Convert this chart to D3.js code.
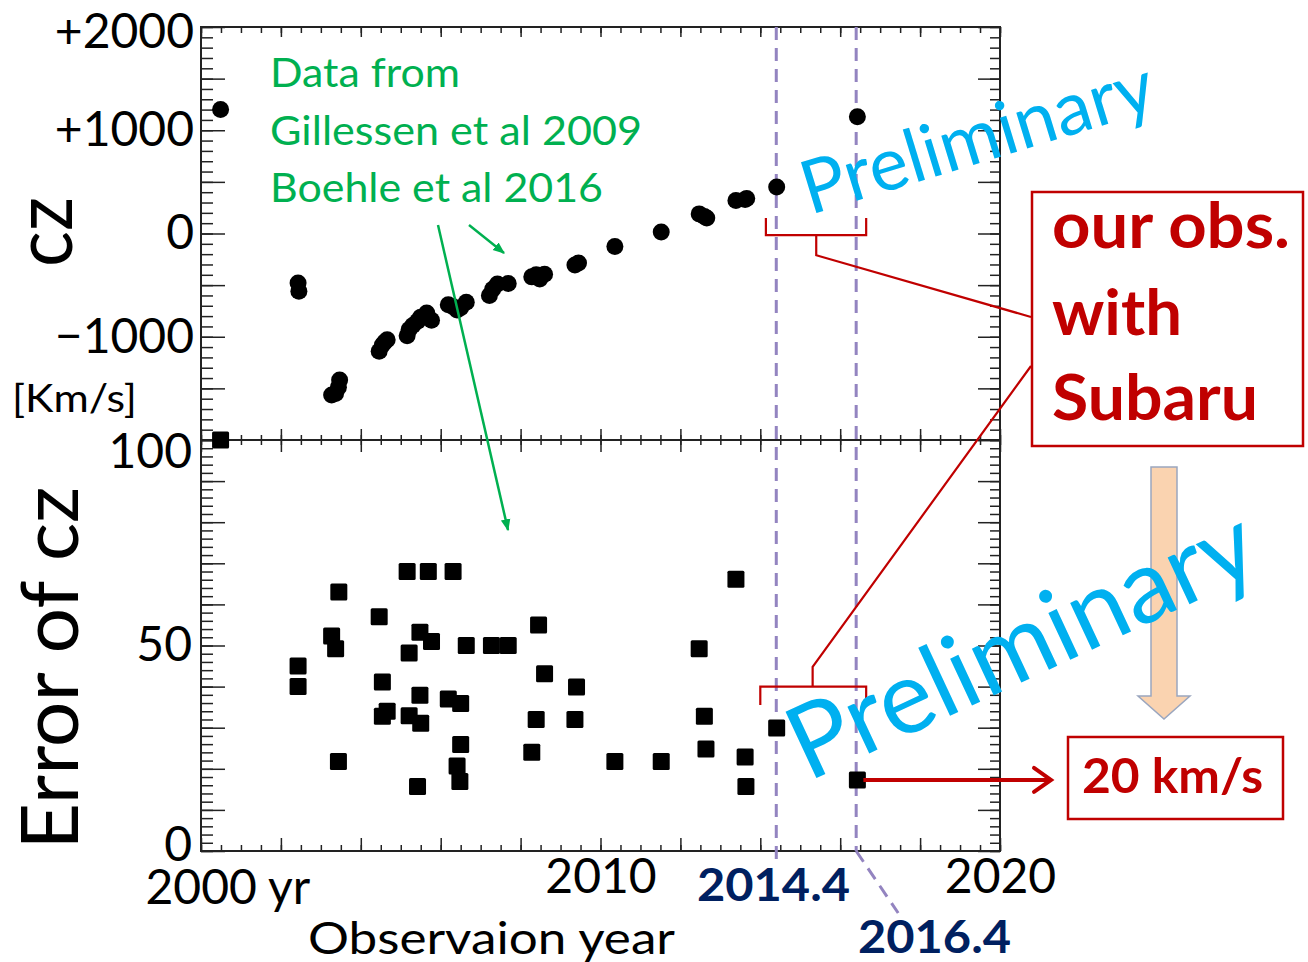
<!DOCTYPE html>
<html>
<head>
<meta charset="utf-8">
<script src="https://cdn.jsdelivr.net/npm/d3@7"></script>
<style>
  body { margin: 0; background: #fff; }
  svg { display: block; }
  text { font-family: Lato, "Open Sans", sans-serif; }
</style>
</head>
<body>
<svg id="chart" width="1308" height="962"></svg>
<script>
// cz (km/s) per epoch
const czYears = [2000.49, 2002.43, 2002.45, 2003.27, 2003.37, 2003.44, 2003.47,
  2004.46, 2004.54, 2004.6, 2004.66, 2005.16, 2005.21, 2005.3, 2005.42, 2005.5,
  2005.65, 2005.77, 2006.19, 2006.31, 2006.41, 2006.5, 2006.64, 2007.22, 2007.3,
  2007.42, 2007.69, 2008.28, 2008.39, 2008.48, 2008.6, 2009.36, 2009.45, 2010.36,
  2011.52, 2012.47, 2012.6, 2012.66, 2013.39, 2013.62, 2013.66, 2014.41, 2016.43];
const czValues = [1200, -480, -560, -1565, -1550, -1490, -1420,
  -1140, -1080, -1050, -1030, -990, -930, -890, -850, -810,
  -770, -840, -690, -710, -740, -720, -665, -600, -540,
  -490, -485, -420, -400, -440, -395, -305, -285, -125,
  15, 190, 165, 150, 320, 330, 340, 450, 1130];

// error of cz (km/s), lower panel
const errYears = [2000.49, 2002.43, 2002.43, 2003.27, 2003.37, 2003.45, 2003.44,
  2004.46, 2004.54, 2004.66, 2004.54, 2005.16, 2005.69, 2006.31, 2005.48, 2005.77,
  2005.21, 2005.48, 2005.21, 2005.5, 2005.42, 2006.19, 2006.5, 2006.5, 2006.41,
  2006.48, 2006.64, 2007.27, 2007.69, 2008.45, 2008.6, 2008.39, 2008.28, 2009.4,
  2009.36, 2010.36, 2011.52, 2012.47, 2012.6, 2012.64, 2013.39, 2013.62, 2013.64,
  2014.41, 2016.43];
const errValues = [100, 45, 40, 52.3, 49.2, 63, 21.8,
  57, 41.1, 34, 32.8, 68, 68, 68, 53.2, 51,
  48.2, 37.9, 32.9, 31.1, 15.7, 37, 35.9, 25.9, 20.7,
  16.9, 50, 50, 50, 55, 43.1, 32, 24, 39.9,
  32, 21.8, 21.8, 49.2, 32.8, 24.8, 66.1, 22.9, 15.7,
  29.9, 17.3];

const obsEpochs = [2014.4, 2016.4];
const obsLabels = ["2014.4", "2016.4"];

const xTickValues = [2000, 2010, 2020];
const xTickLabels = ["2000 yr", "2010", "2020"];
const czTickValues = [2000, 1000, 0, -1000];
const czTickLabels = ["+2000", "+1000", "0", "\u22121000"];
const errTickValues = [100, 50, 0];
const errTickLabels = ["100", "50", "0"];

const sourceLines = ["Data from", "Gillessen et al 2009", "Boehle et al 2016"];
const subaruLines = ["our obs.", "with", "Subaru"];
const resultLabel = "20 km/s";
const stampText = "Preliminary";

const GREEN = "#00b050", RED = "#c00000", CYAN = "#00b0f0", NAVY = "#002060", LILAC = "#9384c0";

const svg = d3.select("#chart");
const pLeft = 201, pRight = 1000, pTop = 27, pMid = 440, pBottom = 851;

const x = d3.scaleLinear().domain([2000, 2020]).range([pLeft, pRight]);
const yCz = d3.scaleLinear().domain([-2000, 2000]).range([pMid, pTop]);
const yErr = d3.scaleLinear().domain([0, 100]).range([pBottom, pMid]);

const defs = svg.append("defs");
function marker(id, color, size) {
  defs.append("marker")
    .attr("id", id).attr("viewBox", "0 0 10 10")
    .attr("refX", 9).attr("refY", 5)
    .attr("markerWidth", size).attr("markerHeight", size)
    .attr("markerUnits", "userSpaceOnUse")
    .attr("orient", "auto")
    .append("path").attr("d", "M0,1 L10,5 L0,9 Z").attr("fill", color);
}
marker("greenHead", GREEN, 12);

// ---- ticks (all inward, on every side of both panels)
function ticks(axis, scale, values, size, tf) {
  svg.append("g").attr("transform", tf)
    .call(axis(scale).tickValues(values).tickSize(size).tickFormat(""))
    .call(g => g.select(".domain").remove())
    .call(g => g.selectAll("line").attr("stroke", "#222").attr("stroke-width", 1.5));
}
const xMinor = d3.range(2000, 2020.01, 0.5), xMajor = d3.range(2000, 2020.01, 2);
ticks(d3.axisTop, x, xMinor, -6, `translate(0,${pTop})`);
ticks(d3.axisTop, x, xMajor, -10, `translate(0,${pTop})`);
ticks(d3.axisBottom, x, xMinor, -5, `translate(0,${pMid})`);
ticks(d3.axisBottom, x, xMajor, -11, `translate(0,${pMid})`);
ticks(d3.axisTop, x, xMinor, -5, `translate(0,${pMid})`);
ticks(d3.axisTop, x, xMajor, -12, `translate(0,${pMid})`);
ticks(d3.axisBottom, x, xMinor, -6, `translate(0,${pBottom})`);
ticks(d3.axisBottom, x, xMajor, -13, `translate(0,${pBottom})`);

const czMinor = d3.range(-2000, 2000.1, 100), czMajor = d3.range(-2000, 2000.1, 500);
const errMinor = d3.range(0, 100.1, 2), errMajor = d3.range(0, 100.1, 10);
ticks(d3.axisLeft, yCz, czMinor, -12, `translate(${pLeft},0)`);
ticks(d3.axisLeft, yCz, czMajor, -24, `translate(${pLeft},0)`);
ticks(d3.axisRight, yCz, czMinor, -10, `translate(${pRight},0)`);
ticks(d3.axisRight, yCz, czMajor, -22, `translate(${pRight},0)`);
ticks(d3.axisLeft, yErr, errMinor, -12, `translate(${pLeft},0)`);
ticks(d3.axisLeft, yErr, errMajor, -24, `translate(${pLeft},0)`);
ticks(d3.axisRight, yErr, errMinor, -10, `translate(${pRight},0)`);
ticks(d3.axisRight, yErr, errMajor, -22, `translate(${pRight},0)`);

// frames
svg.append("rect").attr("x", pLeft).attr("y", pTop).attr("width", pRight - pLeft).attr("height", pMid - pTop)
  .attr("fill", "none").attr("stroke", "#222").attr("stroke-width", 2);
svg.append("rect").attr("x", pLeft).attr("y", pMid).attr("width", pRight - pLeft).attr("height", pBottom - pMid)
  .attr("fill", "none").attr("stroke", "#222").attr("stroke-width", 2);

// ---- tick labels
function labelAxis(axis, scale, values, labels, pad, tf) {
  return svg.append("g").attr("transform", tf)
    .call(axis(scale).tickValues(values).tickSize(0).tickPadding(pad).tickFormat((d, i) => labels[i]))
    .call(g => g.select(".domain").remove())
    .call(g => g.selectAll("text").attr("font-family", "Lato").attr("font-size", 48).attr("fill", "#000"));
}
labelAxis(d3.axisLeft, yCz, czTickValues, czTickLabels, 7, `translate(${pLeft},0)`)
  .selectAll("text")
  .attr("y", d => Math.max(yCz(d), pTop + 5) - yCz(d));
labelAxis(d3.axisLeft, yErr, errTickValues, errTickLabels, 9, `translate(${pLeft},0)`)
  .selectAll("text")
  .attr("y", d => Math.min(Math.max(yErr(d), pMid + 12), pBottom - 6) - yErr(d));
labelAxis(d3.axisBottom, x, xTickValues, xTickLabels, 8, `translate(0,${pBottom})`)
  .selectAll("text")
  .filter(d => d === 2000)
  .attr("text-anchor", "start").attr("x", -56).attr("y", 19);

// ---- axis titles
svg.append("text").attr("transform", "translate(72,232) rotate(-90)")
  .attr("text-anchor", "middle").attr("font-size", 82).attr("textLength", 70)
  .attr("lengthAdjust", "spacingAndGlyphs").text("cz");
svg.append("text").attr("transform", "translate(78,668) rotate(-90)")
  .attr("text-anchor", "middle").attr("font-size", 80).attr("textLength", 363)
  .attr("lengthAdjust", "spacingAndGlyphs").text("Error of cz");
svg.append("text").attr("x", 12).attr("y", 412).attr("font-size", 38)
  .attr("textLength", 125).attr("lengthAdjust", "spacingAndGlyphs").text("[Km/s]");
svg.append("text").attr("x", 308).attr("y", 954).attr("font-size", 44)
  .attr("textLength", 367).attr("lengthAdjust", "spacingAndGlyphs").text("Observaion year");

// ---- observation epochs (dashed)
obsEpochs.forEach((yr, i) => {
  svg.append("line").attr("x1", x(yr)).attr("x2", x(yr)).attr("y1", pTop).attr("y2", pBottom + (i ? 0 : 10))
    .attr("stroke", LILAC).attr("stroke-width", 3).attr("stroke-dasharray", "13,8");
});
svg.append("line").attr("x1", x(obsEpochs[1])).attr("y1", pBottom).attr("x2", x(obsEpochs[1]) + 42).attr("y2", pBottom + 62)
  .attr("stroke", LILAC).attr("stroke-width", 3).attr("stroke-dasharray", "13,8");
svg.selectAll(".epochLabel").data(obsLabels).join("text")
  .attr("class", "epochLabel")
  .attr("x", (d, i) => i ? 858 : 697).attr("y", (d, i) => i ? 953 : 901)
  .attr("font-size", 46).attr("font-weight", 700).attr("fill", NAVY)
  .attr("textLength", 153).attr("lengthAdjust", "spacingAndGlyphs")
  .text(d => d);

// ---- data marks
svg.append("g").selectAll("circle").data(czYears).join("circle")
  .attr("cx", d => x(d)).attr("cy", (d, i) => yCz(czValues[i])).attr("r", 8.5).attr("fill", "#000");
svg.append("g").selectAll("rect").data(errYears).join("rect")
  .attr("x", d => x(d) - 8.5).attr("y", (d, i) => yErr(errValues[i]) - 8.5)
  .attr("width", 17).attr("height", 17).attr("rx", 1.5).attr("fill", "#000");

// ---- source annotation
svg.selectAll(".src").data(sourceLines).join("text")
  .attr("class", "src").attr("x", 270).attr("y", (d, i) => 87 + i * 57.5)
  .attr("font-size", 40).attr("fill", GREEN)
  .attr("textLength", (d, i) => [190, 372, 333][i]).attr("lengthAdjust", "spacingAndGlyphs")
  .text(d => d);
svg.append("line").attr("x1", 469).attr("y1", 225).attr("x2", 504).attr("y2", 253)
  .attr("stroke", GREEN).attr("stroke-width", 2.5).attr("marker-end", "url(#greenHead)");
svg.append("line").attr("x1", 438).attr("y1", 225).attr("x2", 508).attr("y2", 530)
  .attr("stroke", GREEN).attr("stroke-width", 2.5).attr("marker-end", "url(#greenHead)");

// ---- brackets and callout to the Subaru box
const bracket = svg.append("g").attr("fill", "none").attr("stroke", RED).attr("stroke-width", 2.2);
bracket.append("path").attr("d",
  `M${x(2014.14)},${yCz(150)} L${x(2014.14)},${yCz(-15)} L${x(2016.65)},${yCz(-15)} L${x(2016.65)},${yCz(150)}` +
  `M${x(2015.4)},${yCz(-15)} L${x(2015.4)},${yCz(-210)} L1031,317`);
bracket.append("path").attr("d",
  `M${x(2014.0)},${yErr(35.5)} L${x(2014.0)},${yErr(40)} L${x(2016.65)},${yErr(40)} L${x(2016.65)},${yErr(35.5)}` +
  `M${x(2015.31)},${yErr(40)} L${x(2015.31)},${yErr(44.8)} L1031,366`);

svg.append("rect").attr("x", 1032).attr("y", 192).attr("width", 271).attr("height", 254)
  .attr("fill", "#fff").attr("stroke", RED).attr("stroke-width", 2.5);
svg.selectAll(".sub").data(subaruLines).join("text")
  .attr("class", "sub").attr("x", 1052).attr("y", (d, i) => [248, 335, 420][i])
  .attr("font-size", 64).attr("font-weight", 700).attr("fill", RED)
  .attr("textLength", (d, i) => [238, 130, 206][i]).attr("lengthAdjust", "spacingAndGlyphs")
  .text(d => d);

// ---- peach block arrow
svg.append("path")
  .attr("d", "M1151,467 L1177,467 L1177,696 L1190,696 L1164,719 L1138,696 L1151,696 Z")
  .attr("fill", "#fad3b0").attr("stroke", "#9aa6bf").attr("stroke-width", 1.5);

// ---- result box + red arrow
svg.append("line").attr("x1", x(2016.43) + 6).attr("y1", yErr(17.3)).attr("x2", 1050).attr("y2", yErr(17.3))
  .attr("stroke", RED).attr("stroke-width", 4);
svg.append("path").attr("d", `M1034,${yErr(17.3) - 12} L1051,${yErr(17.3)} L1034,${yErr(17.3) + 12}`)
  .attr("fill", "none").attr("stroke", RED).attr("stroke-width", 4).attr("stroke-linecap", "round");
svg.append("rect").attr("x", 1068).attr("y", 737).attr("width", 215).attr("height", 82)
  .attr("fill", "#fff").attr("stroke", RED).attr("stroke-width", 2.5);
svg.append("text").attr("x", 1082).attr("y", 793).attr("font-size", 48).attr("font-weight", 700)
  .attr("fill", RED).attr("textLength", 181).attr("lengthAdjust", "spacingAndGlyphs").text(resultLabel);

// ---- "Preliminary" stamps
svg.append("text").attr("transform", "translate(810,215) rotate(-17)")
  .attr("font-family", "Liberation Sans, Arial, sans-serif").attr("font-size", 74)
  .attr("fill", CYAN).text(stampText);
svg.append("text").attr("transform", "translate(808,782) rotate(-25)")
  .attr("font-family", "Liberation Sans, Arial, sans-serif").attr("font-size", 102)
  .attr("fill", CYAN).text(stampText);
</script>
</body>
</html>
